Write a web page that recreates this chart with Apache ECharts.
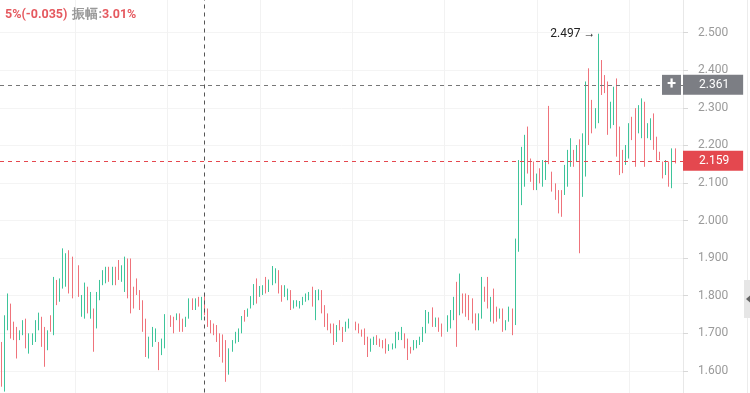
<!DOCTYPE html>
<html><head><meta charset="utf-8">
<script src="https://cdn.jsdelivr.net/npm/echarts@6/dist/echarts.min.js"></script>
<style>html,body{margin:0;padding:0;background:#fff;overflow:hidden;width:750px;height:393px;position:relative}#c{position:absolute;left:0;top:-5px;width:750px;height:420px}</style>
</head><body><div id="c"></div>
<script>
// [open, close, low, high]
const candles = [
[1.670,1.575,1.558,1.677],[1.575,1.735,1.545,1.748],[1.720,1.795,1.708,1.806],[1.770,1.700,1.686,1.779],[1.725,1.690,1.682,1.731],
[1.710,1.645,1.633,1.717],[1.686,1.703,1.682,1.708],[1.700,1.730,1.695,1.735],[1.732,1.672,1.660,1.739],[1.655,1.692,1.646,1.700],
[1.674,1.696,1.669,1.700],[1.684,1.728,1.677,1.735],[1.714,1.748,1.708,1.755],[1.738,1.675,1.664,1.744],[1.708,1.628,1.611,1.717],
[1.664,1.700,1.655,1.708],[1.742,1.710,1.704,1.748],[1.710,1.838,1.695,1.850],[1.835,1.784,1.775,1.842],[1.790,1.838,1.784,1.846],
[1.830,1.915,1.819,1.926],[1.835,1.905,1.824,1.913],[1.912,1.818,1.806,1.921],[1.895,1.805,1.793,1.904],[1.878,1.806,1.797,1.886],
[1.872,1.805,1.797,1.881],[1.750,1.796,1.744,1.802],[1.748,1.826,1.739,1.835],[1.817,1.762,1.753,1.824],[1.748,1.802,1.739,1.810],
[1.758,1.664,1.651,1.766],[1.722,1.800,1.713,1.810],[1.795,1.836,1.788,1.842],[1.834,1.862,1.828,1.868],[1.838,1.871,1.833,1.877],
[1.871,1.842,1.837,1.877],[1.834,1.871,1.828,1.877],[1.871,1.834,1.828,1.877],[1.888,1.848,1.842,1.895],[1.843,1.875,1.837,1.881],
[1.818,1.896,1.810,1.904],[1.892,1.802,1.793,1.899],[1.890,1.765,1.753,1.899],[1.818,1.772,1.766,1.824],[1.840,1.808,1.802,1.846],
[1.809,1.768,1.762,1.815],[1.780,1.712,1.704,1.788],[1.730,1.648,1.637,1.739],[1.640,1.684,1.633,1.691],[1.670,1.710,1.664,1.717],
[1.682,1.708,1.677,1.713],[1.670,1.612,1.602,1.677],[1.648,1.680,1.642,1.686],[1.668,1.744,1.660,1.751],[1.739,1.758,1.735,1.762],
[1.744,1.721,1.717,1.748],[1.739,1.705,1.700,1.744],[1.738,1.750,1.735,1.753],[1.748,1.709,1.704,1.753],[1.735,1.708,1.704,1.739],
[1.720,1.740,1.717,1.744],[1.745,1.787,1.739,1.793],[1.789,1.766,1.762,1.793],[1.766,1.789,1.762,1.793],[1.793,1.775,1.771,1.797],
[1.742,1.791,1.735,1.797],[1.800,1.754,1.748,1.806],[1.761,1.722,1.717,1.766],[1.731,1.704,1.700,1.735],[1.722,1.699,1.695,1.726],
[1.717,1.682,1.677,1.722],[1.694,1.645,1.637,1.700],[1.690,1.632,1.622,1.697],[1.674,1.585,1.571,1.682],[1.598,1.652,1.590,1.660],
[1.655,1.678,1.651,1.682],[1.677,1.700,1.673,1.704],[1.682,1.708,1.677,1.713],[1.705,1.740,1.700,1.746],[1.758,1.735,1.731,1.762],
[1.747,1.763,1.744,1.766],[1.770,1.795,1.766,1.799],[1.781,1.825,1.775,1.831],[1.840,1.786,1.779,1.846],[1.800,1.822,1.797,1.826],
[1.805,1.825,1.802,1.828],[1.845,1.811,1.806,1.850],[1.814,1.839,1.810,1.843],[1.834,1.873,1.828,1.879],[1.838,1.868,1.833,1.873],
[1.862,1.812,1.806,1.868],[1.823,1.789,1.784,1.828],[1.800,1.824,1.797,1.828],[1.792,1.815,1.788,1.819],[1.810,1.768,1.762,1.815],
[1.769,1.785,1.766,1.788],[1.774,1.785,1.771,1.788],[1.769,1.783,1.766,1.786],[1.778,1.794,1.775,1.797],[1.787,1.803,1.784,1.806],
[1.791,1.807,1.788,1.810],[1.819,1.777,1.771,1.824],[1.745,1.808,1.735,1.815],[1.792,1.813,1.788,1.817],[1.809,1.760,1.753,1.815],
[1.769,1.724,1.717,1.775],[1.748,1.713,1.708,1.753],[1.723,1.704,1.700,1.726],[1.720,1.676,1.669,1.726],[1.682,1.717,1.677,1.722],
[1.731,1.712,1.708,1.735],[1.712,1.682,1.677,1.717],[1.707,1.727,1.704,1.731],[1.716,1.735,1.713,1.739],[1.741,1.712,1.708,1.746],
[1.728,1.711,1.708,1.731],[1.723,1.704,1.700,1.726],[1.707,1.694,1.691,1.710],[1.708,1.675,1.669,1.713],[1.685,1.644,1.637,1.691],
[1.655,1.682,1.651,1.686],[1.672,1.688,1.669,1.691],[1.692,1.673,1.669,1.695],[1.683,1.667,1.664,1.686],[1.679,1.663,1.660,1.682],
[1.681,1.652,1.646,1.686],[1.656,1.669,1.653,1.671],[1.660,1.671,1.657,1.673],[1.665,1.699,1.660,1.704],[1.685,1.701,1.682,1.704],
[1.686,1.713,1.682,1.717],[1.696,1.665,1.660,1.700],[1.680,1.636,1.629,1.686],[1.662,1.649,1.646,1.664],[1.658,1.679,1.655,1.682],
[1.663,1.679,1.660,1.682],[1.672,1.688,1.669,1.691],[1.682,1.712,1.677,1.717],[1.707,1.755,1.700,1.762],[1.730,1.753,1.726,1.757],
[1.763,1.723,1.717,1.769],[1.720,1.739,1.717,1.742],[1.738,1.709,1.704,1.742],[1.722,1.695,1.691,1.726],[1.702,1.715,1.700,1.717],
[1.709,1.743,1.704,1.748],[1.718,1.757,1.713,1.762],[1.742,1.790,1.735,1.797],[1.828,1.690,1.664,1.837],[1.755,1.850,1.748,1.859],
[1.800,1.760,1.753,1.806],[1.800,1.750,1.744,1.806],[1.796,1.742,1.735,1.802],[1.787,1.733,1.726,1.793],[1.748,1.713,1.708,1.753],
[1.713,1.748,1.708,1.753],[1.747,1.842,1.739,1.850],[1.820,1.789,1.784,1.824],[1.843,1.774,1.766,1.850],[1.738,1.790,1.731,1.797],
[1.812,1.735,1.726,1.819],[1.767,1.735,1.731,1.771],[1.742,1.763,1.739,1.766],[1.760,1.710,1.704,1.766],[1.711,1.732,1.708,1.735],
[1.735,1.767,1.731,1.771],[1.760,1.702,1.695,1.766],[1.728,1.945,1.722,1.952],[1.930,2.145,1.917,2.161],[2.050,2.185,2.041,2.196],
[2.100,2.215,2.090,2.228],[2.210,2.135,2.125,2.250],[2.158,2.110,2.103,2.165],[2.150,2.088,2.081,2.157],[2.086,2.120,2.081,2.125],
[2.135,2.103,2.099,2.139],[2.096,2.155,2.090,2.161],[2.112,2.156,2.108,2.161],[2.170,2.158,2.150,2.305],[2.125,2.083,2.077,2.130],
[2.095,2.060,2.055,2.099],[2.075,2.026,2.019,2.081],[2.074,2.018,2.010,2.081],[2.075,2.141,2.068,2.148],[2.098,2.180,2.090,2.188],
[2.150,2.212,2.143,2.219],[2.184,2.148,2.143,2.188],[2.161,2.197,2.157,2.201],[2.205,2.120,1.913,2.216],[2.075,2.220,2.063,2.232],
[2.130,2.355,2.117,2.370],[2.390,2.215,2.201,2.405],[2.314,2.240,2.232,2.321],[2.250,2.293,2.245,2.299],[2.270,2.420,2.259,2.497],
[2.418,2.342,2.334,2.427],[2.382,2.344,2.339,2.387],[2.360,2.240,2.228,2.370],[2.252,2.310,2.245,2.316],[2.262,2.348,2.254,2.356],
[2.365,2.185,2.170,2.378],[2.240,2.130,2.121,2.250],[2.182,2.132,2.126,2.188],[2.153,2.196,2.148,2.201],[2.172,2.252,2.165,2.259],
[2.270,2.220,2.214,2.276],[2.288,2.155,2.143,2.299],[2.240,2.300,2.232,2.307],[2.228,2.316,2.219,2.325],[2.305,2.155,2.143,2.316],
[2.223,2.255,2.219,2.259],[2.220,2.266,2.214,2.272],[2.277,2.196,2.188,2.285],[2.217,2.162,2.156,2.223],[2.180,2.164,2.161,2.183],
[2.153,2.117,2.112,2.157],[2.125,2.157,2.121,2.161],[2.151,2.097,2.090,2.157],[2.094,2.185,2.086,2.192],[2.185,2.159,2.152,2.192]
];
const emptySlots = 2;
const categories = candles.map((_, i) => String(i + 1)).concat(Array.from({length: emptySlots}, (_, i) => 'e' + i));
const yMin = 1.5, yMax = 2.6, yStep = 0.1;
const labelMin = 1.6, labelMax = 2.5;
const lastPrice = 2.159;
const crossPrice = 2.361;
const crossIndex = 66;
const vGridIndex = [24, 54, 84, 114, 144, 174, 204];
const headerChange = '5%(-0.035)';
const headerAmpLabel = '振幅:';
const headerAmp = '3.01%';

const UP = '#3ec49a', DOWN = '#ef737b';
const chart = echarts.init(document.getElementById('c'), null, {renderer: 'canvas'});

const priceLabel = bg => ({show: true, position: 'end', distance: 0, formatter: p => Number(p.value).toFixed(3),
  backgroundColor: bg, color: '#fff', fontSize: 12, fontFamily: 'Roboto', lineHeight: 12,
  padding: [4, 14, 4, 16], align: 'left'});

const markLines = [
  {yAxis: crossPrice, lineStyle: {color: '#777', type: [4, 4], width: 1}, label: priceLabel('#7c7e84')},
  {yAxis: lastPrice, lineStyle: {color: '#e5484f', type: [4, 4], width: 1}, label: priceLabel('#e4484f')},
  {xAxis: crossIndex, lineStyle: {color: '#555', type: [4, 4], width: 1}, label: {show: false}}
];

chart.setOption({
  animation: false,
  backgroundColor: '#fff',
  title: {
    left: 0, top: 6,
    text: '{r|' + headerChange + '} {g|' + headerAmpLabel + '}{r|' + headerAmp + '}',
    textStyle: {rich: {
      r: {color: '#e5595f', fontSize: 12.5, fontFamily: 'Roboto'},
      g: {color: '#999', fontSize: 12.5, fontFamily: 'Roboto'}
    }}
  },
  grid: {left: 0, right: 67, top: 0, height: 413.5},
  xAxis: {
    type: 'category', data: categories, boundaryGap: true,
    axisLine: {show: false}, axisTick: {show: false}, axisLabel: {show: false},
    splitLine: {show: false}
  },
  yAxis: {
    type: 'value', position: 'right',
    min: yMin, max: yMax, interval: yStep,
    axisLine: {show: true, lineStyle: {color: '#e8e8e8'}},
    axisTick: {show: true, length: 5, lineStyle: {color: '#d8d8d8'}},
    axisLabel: {color: '#9a9a9a', fontSize: 12, fontFamily: 'Roboto', margin: 15,
      formatter: v => (v < labelMin - 1e-6 || v > labelMax + 1e-6) ? '' : v.toFixed(3)},
    splitLine: {show: true, lineStyle: {color: '#f4f4f4'}}
  },
  series: [
    {
      type: 'line', data: [], z: 1, silent: true,
      markLine: {symbol: 'none', silent: true, animation: false,
        data: vGridIndex.map(i => ({xAxis: i, lineStyle: {color: '#f2f2f2', type: 'solid', width: 1}, label: {show: false}}))}
    },
    {
      type: 'candlestick', data: candles, barWidth: 1.2, z: 3,
      itemStyle: {color: UP, color0: DOWN, borderColor: UP, borderColor0: DOWN, borderWidth: 1},
      markLine: {symbol: 'none', silent: true, animation: false, precision: 3, data: markLines},
      markPoint: {
        symbol: 'circle', symbolSize: 0,
        data: [{type: 'max', valueDim: 'highest'}],
        label: {show: true, position: 'left', distance: 3, color: '#222', fontSize: 12, fontFamily: 'Roboto',
          formatter: p => Number(p.value).toFixed(3) + ' →'}
      }
    }
  ]
});

const yc = chart.convertToPixel({yAxisIndex: 0}, crossPrice);
chart.setOption({
  graphic: [
    {type: 'rect', shape: {x: 662, y: yc - 10, width: 19, height: 20}, style: {fill: '#7c7e84'}, z: 100},
    {type: 'text', x: 671.5, y: yc, style: {text: '+', fill: '#fff', font: 'bold 16px Roboto', align: 'center', verticalAlign: 'middle'}, z: 101},
    {type: 'line', shape: {x1: 747.5, y1: 0, x2: 747.5, y2: 420}, style: {stroke: '#ececec', lineWidth: 1}, z: 100},
    {type: 'rect', shape: {x: 744, y: 285, width: 6, height: 38}, style: {fill: '#e6e6e6'}, z: 100},
    {type: 'polygon', shape: {points: [[746, 304], [750, 300.5], [750, 307.5]]}, style: {fill: '#666'}, z: 101}
  ]
});
</script>
</body></html>
